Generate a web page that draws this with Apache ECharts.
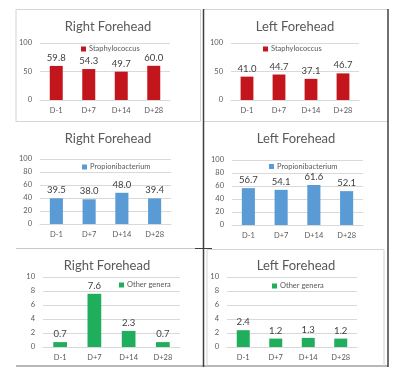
<!DOCTYPE html>
<html><head><meta charset="utf-8">
<script src="https://cdn.jsdelivr.net/npm/echarts@6/dist/echarts.min.js"></script>
<style>html,body{margin:0;padding:0;background:#fff}#c{width:400px;height:373px}</style>
</head><body><div id="c"></div>
<script>
const categories = ['D-1', 'D+7', 'D+14', 'D+28'];
const staphRight = [59.8, 54.3, 49.7, 60.0];
const staphLeft = [41.0, 44.7, 37.1, 46.7];
const propRight = [39.5, 38.0, 48.0, 39.4];
const propLeft = [56.7, 54.1, 61.6, 52.1];
const otherRight = [0.7, 7.6, 2.3, 0.7];
const otherLeft = [2.4, 1.2, 1.3, 1.2];
const panelTitles = ['Right Forehead', 'Left Forehead', 'Right Forehead', 'Left Forehead', 'Right Forehead', 'Left Forehead'];
const seriesNames = ['Staphylococcus', 'Staphylococcus', 'Propionibacterium', 'Propionibacterium', 'Other genera', 'Other genera'];
const yMax = [100, 100, 100, 100, 10, 10];
const yInterval = [50, 50, 20, 20, 2, 2];

const FONT = 'Lato';
const colors = ['#c3161c', '#c3161c', '#5b9bd5', '#5b9bd5', '#1fae5b', '#1fae5b'];
const values = [staphRight, staphLeft, propRight, propLeft, otherRight, otherLeft];
const grids = [
  {left: 40, top: 43, width: 130, height: 57},
  {left: 231, top: 43, width: 128, height: 57},
  {left: 40, top: 159, width: 131, height: 65},
  {left: 232, top: 160, width: 131, height: 65},
  {left: 43, top: 277, width: 137, height: 70},
  {left: 227, top: 277, width: 130, height: 70}
];
const titlePos = [[108, 20], [295, 20], [108, 132], [296, 132], [107, 259], [296, 259]];
const legendPos = [[81, 45], [263, 45], [82, 163], [269, 162.5], [119, 281], [272, 282]];

const option = {
  animation: false,
  backgroundColor: '#fff',
  title: panelTitles.map((t, i) => ({
    text: t, left: titlePos[i][0], top: titlePos[i][1], textAlign: 'center', padding: 0,
    textStyle: {fontFamily: FONT, fontSize: 13, fontWeight: 'normal', color: '#595959'}
  })),
  legend: seriesNames.map((n, i) => ({
    data: [n], left: legendPos[i][0], top: legendPos[i][1], padding: 0,
    icon: 'rect', itemWidth: 5, itemHeight: 5, itemGap: 4,
    textStyle: {fontFamily: FONT, fontSize: 7.5, color: '#595959', padding: [0, 0, 0, -2]}
  })),
  grid: grids,
  xAxis: grids.map((g, i) => ({
    type: 'category', gridIndex: i, data: categories,
    axisLine: {lineStyle: {color: '#d9d9d9'}}, axisTick: {show: false},
    axisLabel: {fontFamily: FONT, fontSize: 7.5, color: '#595959', margin: 7}
  })),
  yAxis: grids.map((g, i) => ({
    type: 'value', gridIndex: i, min: 0, max: yMax[i], interval: yInterval[i],
    axisLine: {show: false}, axisTick: {show: false},
    splitLine: {lineStyle: {color: '#d9d9d9', width: 1}},
    axisLabel: {fontFamily: FONT, fontSize: 7.5, color: '#595959', margin: 8}
  })),
  series: values.map((v, i) => ({
    type: 'bar', name: seriesNames[i], xAxisIndex: i, yAxisIndex: i, data: v,
    barWidth: '40%', itemStyle: {color: colors[i]},
    label: {show: true, position: 'top', distance: 3, fontFamily: FONT, fontSize: 9.5, color: '#404040',
      formatter: p => p.value.toFixed(1)}
  })),
  graphic: [
    {type: 'polyline', shape: {points: [[16, 122], [16, 9.5], [200.5, 9.5], [200.5, 121.5], [16, 121.5]]}, style: {stroke: '#d4d4d4', fill: null, lineWidth: 1}},
    {type: 'line', shape: {x1: 16, y1: 248.5, x2: 203, y2: 248.5}, style: {stroke: '#c8c8c8', lineWidth: 1}},
    {type: 'line', shape: {x1: 16, y1: 366, x2: 388, y2: 366}, style: {stroke: '#707070', lineWidth: 1.2}},
    {type: 'line', shape: {x1: 204, y1: 9.5, x2: 388, y2: 9.5}, style: {stroke: '#d4d4d4', lineWidth: 1}},
    {type: 'line', shape: {x1: 204, y1: 121.5, x2: 388, y2: 121.5}, style: {stroke: '#d4d4d4', lineWidth: 1}},
    {type: 'line', shape: {x1: 207, y1: 249.5, x2: 384, y2: 249.5}, style: {stroke: '#d4d4d4', lineWidth: 1}},
    {type: 'line', shape: {x1: 207, y1: 249.5, x2: 207, y2: 366}, style: {stroke: '#d4d4d4', lineWidth: 1}},
    {type: 'line', shape: {x1: 384, y1: 249.5, x2: 384, y2: 366}, style: {stroke: '#d4d4d4', lineWidth: 1}},
    {type: 'line', shape: {x1: 203.5, y1: 9, x2: 203.5, y2: 367}, style: {stroke: '#404040', lineWidth: 1.5}},
    {type: 'line', shape: {x1: 388, y1: 9, x2: 388, y2: 367}, style: {stroke: '#404040', lineWidth: 1.5}},
    {type: 'line', shape: {x1: 195, y1: 248.5, x2: 212, y2: 248.5}, style: {stroke: '#404040', lineWidth: 1}}
  ]
};
const chart = echarts.init(document.getElementById('c'), null, {renderer: 'canvas'});
chart.setOption(option);
</script>
</body></html>
